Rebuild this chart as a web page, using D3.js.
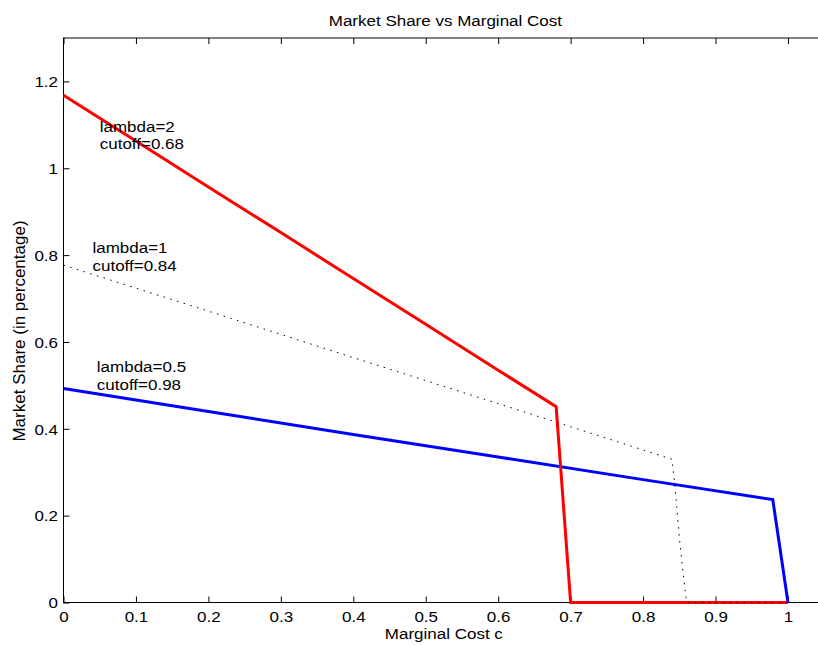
<!DOCTYPE html>
<html>
<head>
<meta charset="utf-8">
<script src="https://cdn.jsdelivr.net/npm/d3@7"></script>
<style>
  body { margin: 0; background: #fff; }
  svg { display: block; font-family: "Liberation Sans", Arial, sans-serif; }
</style>
</head>
<body>
<svg id="chart" width="818" height="645"></svg>
<script>
// values
const lambda2 = [[0, 1.168], [0.1, 1.063], [0.2, 0.957], [0.3, 0.852], [0.4, 0.746],
  [0.5, 0.641], [0.6, 0.535], [0.68, 0.451], [0.70, 0], [1.0, 0]];
const lambda1 = [[0, 0.777], [0.2, 0.671], [0.4, 0.564], [0.6, 0.458], [0.84, 0.330],
  [0.845, 0.25], [0.85, 0.15], [0.855, 0.07], [0.86, 0], [1.0, 0]];
const lambda05 = [[0, 0.493], [0.2, 0.440], [0.4, 0.387], [0.6, 0.335], [0.8, 0.283],
  [0.979, 0.237], [1.0, 0]];
const xTicks = [0, 0.1, 0.2, 0.3, 0.4, 0.5, 0.6, 0.7, 0.8, 0.9, 1];
const yTicks = [0, 0.2, 0.4, 0.6, 0.8, 1, 1.2];
const notes = [
  {x: 0.050, y: 1.084, lines: ['lambda=2', 'cutoff=0.68']},
  {x: 0.040, y: 0.804, lines: ['lambda=1', 'cutoff=0.84']},
  {x: 0.046, y: 0.530, lines: ['lambda=0.5', 'cutoff=0.98']}
];

const FS = 17, SY = 0.88;

const svg = d3.select('#chart'),
  margin = {top: 38, bottom: 42.5, left: 63.5},
  height = +svg.attr('height') - margin.top - margin.bottom;

const x = d3.scaleLinear().domain([0, 1.05]).range([margin.left, margin.left + 760.7]);
const y = d3.scaleLinear().domain([0, 1.3]).range([margin.top + height, margin.top]);

const x0 = x(0), x1 = x(1.05), y0 = y(0), y1 = y(1.3);

// axes box (drawn under the data, like the original)
svg.append('rect').attr('x', x0).attr('y', y1).attr('width', x1 - x0).attr('height', y0 - y1)
  .attr('fill', 'none').attr('stroke', '#000').attr('stroke-width', 1);

const bottomAxis = d3.axisBottom(x).tickValues(xTicks).tickSize(-6).tickFormat(d3.format(''));
const topAxis = d3.axisTop(x).tickValues(xTicks).tickSize(-6).tickFormat('');
const leftAxis = d3.axisLeft(y).tickValues(yTicks).tickSize(-6).tickFormat(d3.format(''));
const rightAxis = d3.axisRight(y).tickValues(yTicks).tickSize(-6).tickFormat('');

function styleAxis(sel) {
  sel.select('.domain').remove();
  sel.selectAll('line').attr('stroke', '#000');
  sel.selectAll('text').attr('fill', '#000').attr('font-size', FS)
    .attr('font-family', '"Liberation Sans", Arial, sans-serif');
}

svg.append('g').attr('transform', `translate(0,${y0})`).call(bottomAxis).call(styleAxis)
  .selectAll('text').attr('y', null).attr('dy', null)
  .attr('transform', `translate(0,19.5) scale(1,${SY})`);
svg.append('g').attr('transform', `translate(0,${y1})`).call(topAxis).call(styleAxis);
svg.append('g').attr('transform', `translate(${x0},0)`).call(leftAxis).call(styleAxis)
  .selectAll('text').attr('x', null).attr('dy', null)
  .attr('transform', `translate(-5.5,5.2) scale(1,${SY})`);
svg.append('g').attr('transform', `translate(${x1},0)`).call(rightAxis).call(styleAxis);

const g = svg.append('g');
const line = d3.line().x(d => x(d[0])).y(d => y(d[1]));

g.append('path').datum(lambda05)
  .attr('fill', 'none').attr('stroke', '#0000ff').attr('stroke-width', 3).attr('d', line);
g.append('path').datum(lambda2)
  .attr('fill', 'none').attr('stroke', '#ff0000').attr('stroke-width', 3).attr('d', line);
g.append('path').datum(lambda1)
  .attr('fill', 'none').attr('stroke', '#000').attr('stroke-width', 1)
  .attr('stroke-dasharray', '1.5,5.5').attr('d', line);

function label(tx, ty, s, anchor) {
  svg.append('text').attr('transform', `translate(${tx},${ty}) scale(1,${SY})`)
    .attr('text-anchor', anchor || 'start').attr('font-size', FS).attr('fill', '#000').text(s);
}

// annotations
notes.forEach(n => {
  n.lines.forEach((s, i) => label(x(n.x), y(n.y) + i * 17.6, s));
});

label((x0 + x1) / 2 + 1.5, 25.5, 'Market Share vs Marginal Cost', 'middle');
label((x0 + x1) / 2, 638.5, 'Marginal Cost c', 'middle');
svg.append('text').attr('transform', 'translate(24.5,331) rotate(-90)')
  .attr('text-anchor', 'middle').attr('font-size', FS).text('Market Share (in percentage)');
</script>
</body>
</html>
